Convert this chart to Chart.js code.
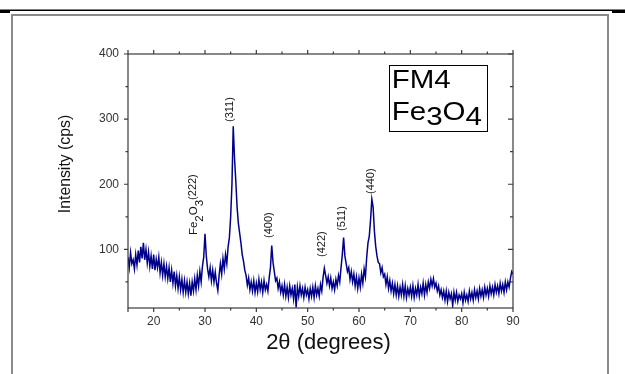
<!DOCTYPE html>
<html><head><meta charset="utf-8">
<script src="https://cdn.jsdelivr.net/npm/chart.js@4"></script>
<style>html,body{margin:0;padding:0;background:#fff}#wrap{position:relative;width:625px;height:374px}</style>
</head><body><div id="wrap"><canvas id="c" width="625" height="374"></canvas></div>
<script>
// 2θ scan: start angle and step (degrees)
const angleStart = 15;
const angleStep = 0.25;
// Intensity (cps), one value per step from 15° to 90°
const intensity = [
 88,72,95,78, 84,70,92,76, 98,80,104,86, 110,84,100,79, 96,74,90,70,
 92,68,85,72, 88,64,80,60, 78,58,74,55, 72,50,68,48, 66,44,60,40,
 58,38,54,34, 52,34,50,32, 48,29,50,36, 55,38,60,44, 66,50,74,88,
 124,90,70,58, 72,52,68,50, 65,48,37,60, 78,62,86,70, 92,78,104,118,
 150,200,289,240, 205,165,140,125, 110,92,82,68, 60,45,56,38, 50,36,52,34,
 48,35,54,38, 50,34,52,38, 46,36,56,72, 106,80,66,52, 56,40,50,34,
 44,30,46,28, 42,26,44,30, 40,24,46,11, 42,28,44,30, 40,26,42,30,
 38,24,40,28, 42,26,44,30, 40,28,46,36, 57,71,60,48, 58,44,56,40,
 50,38,54,44, 60,50,72,92, 118,90,78,66, 72,54,66,50, 62,44,58,40,
 56,42,62,48, 70,58,88,110, 120,145,177,165, 128,105,90,80, 78,64,72,58,
 62,46,58,40, 52,36,48,32, 46,30,44,28, 42,30,46,28, 44,26,40,30,
 42,28,44,26, 40,30,46,28, 42,32,48,30, 46,34,50,40, 54,44,55,42,
 48,36,44,30, 38,26,36,22, 36,20,34,24, 32,14,34,22, 34,20,30,24,
 32,18,34,22, 30,20,36,24, 34,22,38,26, 36,24,40,28, 38,26,42,30,
 40,28,44,32, 42,30,46,34, 44,32,48,36, 46,34,50,38, 50,42,56,66,
 62
];
const xTickValues = [20,30,40,50,60,70,80,90];
const xMinorTicks = [15,25,35,45,55,65,75,85];
const yTickValues = [100,200,300,400];
const yMinorTicks = [50,150,250,350];
const peakLabels = ['(311)','(400)','(422)','(511)','(440)'];
const peakAngles = [34.82,42.43,52.76,56.66,62.31];
const peakLabelBase = [295.6,117.5,88.3,128.2,185];
const xTitle = '2θ (degrees)';
const yTitle = 'Intensity (cps)';
const sampleLines = ['FM4'];

const points = intensity.map((v,i)=>({x: angleStart + i*angleStep, y: v}));
const FONT = "'Liberation Sans', Arial, sans-serif";

const deco = {
  id:'deco',
  beforeDraw(chart){
    const ctx = chart.ctx;
    ctx.save();
    ctx.fillStyle='#fff'; ctx.fillRect(0,0,625,374);
    ctx.fillStyle='#000';
    ctx.fillRect(0,9.5,625,1.5);
    ctx.fillRect(0,11,10,2);
    ctx.fillRect(612,11,13,2);
    ctx.strokeStyle='#8a8a8a'; ctx.lineWidth=2;
    ctx.strokeRect(12,15,596,400);
    ctx.restore();
  },
  afterDraw(chart){
    const ctx = chart.ctx, xs = chart.scales.x, ys = chart.scales.y, a = chart.chartArea;
    ctx.save();
    ctx.strokeStyle='#3a3a3a'; ctx.lineWidth=1.2;
    ctx.strokeRect(a.left, a.top, a.right-a.left, a.bottom-a.top);
    ctx.beginPath();
    const tick=(x1,y1,x2,y2)=>{ctx.moveTo(x1,y1);ctx.lineTo(x2,y2);};
    xTickValues.concat([15]).forEach(v=>{const p=xs.getPixelForValue(v);tick(p,a.bottom,p,a.bottom+4);tick(p,a.top,p,a.top-4);});
    xMinorTicks.forEach(v=>{const p=xs.getPixelForValue(v);tick(p,a.bottom,p,a.bottom+2.5);tick(p,a.top,p,a.top-2.5);});
    yTickValues.forEach(v=>{const p=ys.getPixelForValue(v);tick(a.left-4,p,a.left,p);tick(a.right,p,a.right-5,p);});
    yMinorTicks.forEach(v=>{const p=ys.getPixelForValue(v);tick(a.left-2.5,p,a.left,p);tick(a.right,p,a.right-3,p);});
    ctx.stroke();

    // axis titles
    ctx.fillStyle='#111'; ctx.textAlign='center'; ctx.textBaseline='middle';
    ctx.font='22px '+FONT;
    ctx.fillText(xTitle, (a.left+a.right)/2+8, a.bottom+35);
    ctx.save();
    ctx.translate(a.left-63, (a.top+a.bottom)/2-17);
    ctx.rotate(-Math.PI/2);
    ctx.font='17px '+FONT;
    ctx.scale(0.93,1);
    ctx.fillText(yTitle,0,0);
    ctx.restore();

    // peak labels
    ctx.fillStyle='#151515'; ctx.font='11px '+FONT; ctx.textBaseline='middle'; ctx.textAlign='left';
    peakLabels.forEach((t,i)=>{
      ctx.save();
      ctx.translate(xs.getPixelForValue(peakAngles[i]), ys.getPixelForValue(peakLabelBase[i]));
      ctx.rotate(-Math.PI/2);
      ctx.fillText(t,0,0);
      ctx.restore();
    });
    // Fe2O3(222)
    ctx.save();
    ctx.translate(xs.getPixelForValue(27.9), ys.getPixelForValue(122));
    ctx.rotate(-Math.PI/2);
    let x=0;
    const seg=(t,size,dy)=>{ctx.font=size+'px '+FONT;ctx.fillText(t,x,dy);x+=ctx.measureText(t).width;};
    seg('Fe',11.5,0); seg('2',11.5,6); seg('O',11.5,0); seg('3',11.5,6); seg('(222)',11,-1);
    ctx.restore();

    // sample box
    const bx1=xs.getPixelForValue(65.8), bx2=xs.getPixelForValue(84.9);
    const by1=ys.getPixelForValue(383), by2=ys.getPixelForValue(282);
    ctx.strokeStyle='#000'; ctx.lineWidth=1;
    ctx.strokeRect(Math.round(bx1)+0.5, Math.round(by1)+0.5, Math.round(bx2-bx1), Math.round(by2-by1));
    ctx.fillStyle='#000'; ctx.textBaseline='alphabetic';
    ctx.save();
    ctx.translate(bx1+3, 0); ctx.scale(1.18,1);
    ctx.font='25px '+FONT;
    ctx.fillText(sampleLines[0],0,by1+23);
    x=0;
    const seg2=(t,dy)=>{ctx.fillText(t,x,by1+55+dy);x+=ctx.measureText(t).width;};
    seg2('Fe',0); seg2('3',5); seg2('O',0); seg2('4',5);
    ctx.restore();
    ctx.restore();
  }
};

new Chart(document.getElementById('c'), {
  type:'line',
  data:{datasets:[{data:points, borderColor:'#00008b', borderWidth:1.5, pointRadius:0, tension:0, fill:false}]},
  options:{
    responsive:false, animation:false, devicePixelRatio:1,
    plugins:{legend:{display:false}, tooltip:{enabled:false}},
    layout:{padding:{left:51, right:112, top:54, bottom:14}},
    scales:{
      x:{type:'linear', min:15, max:90,
        afterBuildTicks:s=>{s.ticks = xTickValues.map(v=>({value:v}));},
        afterFit:s=>{s.height=52;},
        grid:{display:false, drawTicks:false}, border:{display:false},
        ticks:{padding:6, maxRotation:0, color:'#333', font:{family:FONT, size:12}},
        title:{display:false}
      },
      y:{type:'linear', min:10, max:400,
        afterBuildTicks:s=>{s.ticks = yTickValues.map(v=>({value:v}));},
        afterFit:s=>{s.width=77;},
        grid:{display:false, drawTicks:false}, border:{display:false},
        ticks:{padding:9, color:'#333', font:{family:FONT, size:12}},
        title:{display:false}
      }
    }
  },
  plugins:[deco]
});
</script></body></html>
